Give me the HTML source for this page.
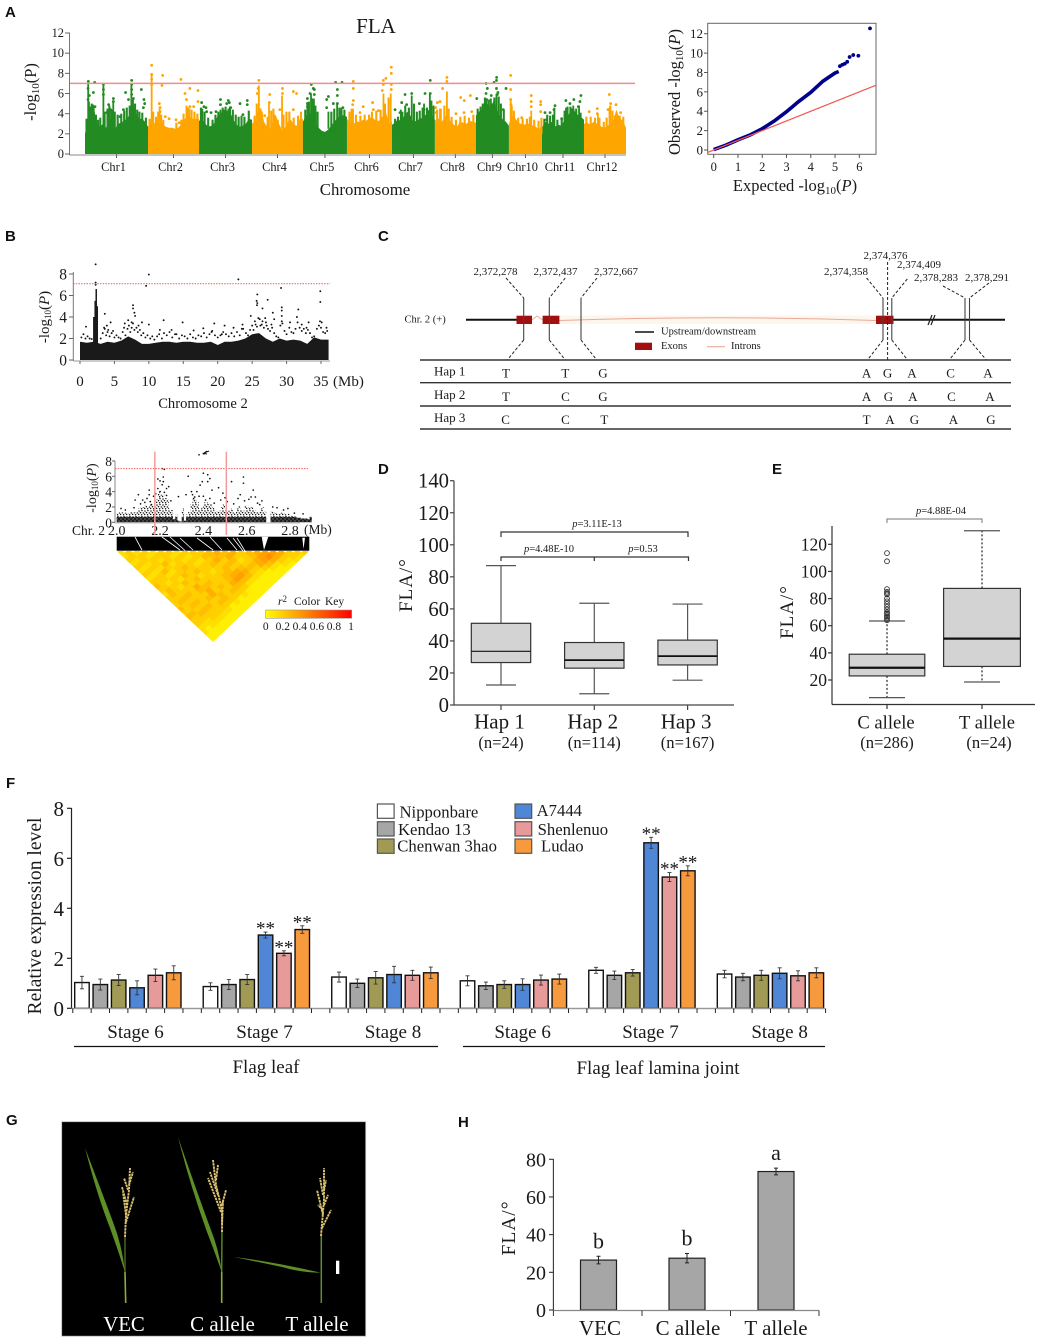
<!DOCTYPE html>
<html lang="en">
<head>
<meta charset="utf-8">
<title>FLA association figure</title>
<style>
html,body{margin:0;padding:0;background:#fff;}
svg{display:block;font-family:"Liberation Serif",serif;}
.panel-letter{font-family:"Liberation Sans",sans-serif;font-weight:700;font-size:15px;fill:#111;}
text{fill:#1a1a1a;}
</style>
</head>
<body>
<svg id="figure" xmlns="http://www.w3.org/2000/svg" width="1037" height="1339" viewBox="0 0 1037 1339">
  <defs>
    <pattern id="speckle" width="6" height="6" patternUnits="userSpaceOnUse">
      <rect width="6" height="6" fill="#fff"/>
      <circle cx="1" cy="1" r=".75" fill="#111"/><circle cx="4" cy="0.6" r=".7" fill="#111"/>
      <circle cx="2.5" cy="2.6" r=".75" fill="#111"/><circle cx="5.3" cy="3" r=".7" fill="#111"/>
      <circle cx="0.6" cy="4.4" r=".75" fill="#111"/><circle cx="3.6" cy="4.7" r=".75" fill="#111"/>
    </pattern>
    <pattern id="speckle-dense" width="4" height="4" patternUnits="userSpaceOnUse">
      <rect width="4" height="4" fill="#444"/>
      <circle cx="1" cy="1" r=".9" fill="#000"/><circle cx="3" cy="3" r=".9" fill="#000"/>
    </pattern>
    <clipPath id="ld-clip"><polygon points="116.7,551 309.3,551 213,642"/></clipPath>
    <linearGradient id="key-gradient" x1="0" x2="1" y1="0" y2="0">
      <stop offset="0" stop-color="#ffff00"/><stop offset="1" stop-color="#ff0000"/>
    </linearGradient>
  </defs>

  <!-- panel letters -->
  <text class="panel-letter" x="5" y="17">A</text>
  <text class="panel-letter" x="5" y="241">B</text>
  <text class="panel-letter" x="378" y="241">C</text>
  <text class="panel-letter" x="378" y="474">D</text>
  <text class="panel-letter" x="772" y="474">E</text>
  <text class="panel-letter" x="6" y="788">F</text>
  <text class="panel-letter" x="6" y="1125">G</text>
  <text class="panel-letter" x="458" y="1127">H</text>

  <!-- panel A static labels -->
  <text x="376" y="33" font-size="21" text-anchor="middle">FLA</text>
  <text x="36" y="92" font-size="16.5" text-anchor="middle" transform="rotate(-90 36 92)">-log<tspan dy="3" font-size="11">10</tspan><tspan dy="-3">(P)</tspan></text>
  <text x="365" y="195" font-size="16.8" text-anchor="middle">Chromosome</text>
  <text x="680" y="92" font-size="16.5" text-anchor="middle" transform="rotate(-90 680 92)">Observed -log<tspan dy="3" font-size="11">10</tspan><tspan dy="-3">(</tspan><tspan font-style="italic">P</tspan>)</text>
  <text x="795" y="191" font-size="16.5" text-anchor="middle">Expected -log<tspan dy="3" font-size="11">10</tspan><tspan dy="-3">(</tspan><tspan font-style="italic">P</tspan>)</text>

  <!-- panel B static labels -->
  <text x="49" y="317" font-size="15" text-anchor="middle" transform="rotate(-90 49 317)">-log<tspan dy="2" font-size="9">10</tspan><tspan dy="-2">(</tspan><tspan font-style="italic">P</tspan>)</text>
  <text x="333" y="386" font-size="15">(Mb)</text>
  <text x="203" y="408" font-size="14.6" text-anchor="middle">Chromosome 2</text>
  <text x="96" y="488" font-size="14" text-anchor="middle" transform="rotate(-90 96 488)">-log<tspan dy="2" font-size="9">10</tspan><tspan dy="-2">(</tspan><tspan font-style="italic">P</tspan>)</text>
  <text x="72" y="535" font-size="13.5">Chr. 2</text>
  <text x="304" y="534" font-size="13.5">(Mb)</text>
  <text x="278" y="605" font-size="11.5"><tspan font-style="italic">r</tspan><tspan dy="-3" font-size="9">2</tspan><tspan dy="3" x="294">Color</tspan><tspan x="325">Key</tspan></text>
  <rect x="265.7" y="610" width="86" height="8.3" fill="url(#key-gradient)" stroke="#999" stroke-width=".6"/>

  <!-- panel C gene model -->
  <g id="gene-model" stroke-linecap="butt">
    <rect x="559" y="315.5" width="318" height="8.5" fill="#fdf6ec"/>
    <line x1="466" x2="517" y1="319.7" y2="319.7" stroke="#111" stroke-width="2"/>
    <line x1="893" x2="1005" y1="319.7" y2="319.7" stroke="#111" stroke-width="2"/>
    <path d="M532,320 L537,316 L542.6,320 M559,320.5 Q720,315 876,320.5" fill="none" stroke="#e8ab9b" stroke-width="1"/>
    <rect x="516.5" y="315.7" width="15.5" height="8.3" fill="#a30f0f"/>
    <rect x="542.6" y="315.7" width="16.8" height="8.3" fill="#a30f0f"/>
    <rect x="876" y="315.7" width="17.5" height="8.3" fill="#a30f0f"/>
    <path d="M928,325 L932,315 M931,325 L935,315" stroke="#222" stroke-width="1.2" fill="none"/>
    <path d="M523.7,298V340 M549.3,298V340 M581,298V340 M883,298V340 M891.8,298V340 M965,298V340 M969.5,298V340" stroke="#444" stroke-width="1.1" fill="none"/>
    <path d="M506,278L523.7,298 M523.7,340L507.3,360 M565.3,278L549.3,298 M549.3,340L565.3,360 M597,278L581,298 M581,340L596.8,360 M866.6,278L883,298 M883,340L867.4,360 M887.6,262V360 M907.3,279L891.8,298 M891.8,340L907.7,360 M943,286L965,298 M965,340L949.3,360 M989,283L969.5,298 M969.5,340L986.3,360" stroke="#222" stroke-width="1" stroke-dasharray="3 2" fill="none"/>
    <line x1="635" x2="654" y1="332" y2="332" stroke="#111" stroke-width="1.6"/>
    <rect x="635" y="342.7" width="17" height="7.3" fill="#a30f0f"/>
    <line x1="707" x2="725" y1="346.7" y2="346.7" stroke="#e8ab9b" stroke-width="1.2"/>
  </g>
  <text x="404.5" y="322.5" font-size="10.5">Chr. 2 (+)</text>
  <text x="661" y="334.5" font-size="10.5">Upstream/downstream</text>
  <text x="661" y="349" font-size="10.5">Exons</text>
  <text x="731" y="349" font-size="10.5">Introns</text>

  <!-- panel D labels -->
  <text x="412" y="585" font-size="19" text-anchor="middle" letter-spacing="1" transform="rotate(-90 412 585)">FLA/°</text>
  <text x="597" y="527" font-size="10.5" text-anchor="middle"><tspan font-style="italic">p</tspan>=3.11E-13</text>
  <text x="549" y="552" font-size="10.5" text-anchor="middle"><tspan font-style="italic">p</tspan>=4.48E-10</text>
  <text x="643" y="552" font-size="10.5" text-anchor="middle"><tspan font-style="italic">p</tspan>=0.53</text>
  <path d="M501,537V532H688V537 M501,561V557H688.5V561 M594.3,557V561" fill="none" stroke="#333" stroke-width="1.2"/>

  <!-- panel E labels -->
  <text x="793" y="612" font-size="19" text-anchor="middle" letter-spacing="1" transform="rotate(-90 793 612)">FLA/°</text>
  <text x="941" y="514" font-size="10.5" text-anchor="middle"><tspan font-style="italic">p</tspan>=4.88E-04</text>
  <path d="M887,523V519H982V523" fill="none" stroke="#777" stroke-width="1"/>

  <!-- panel F labels -->
  <text x="41" y="916" font-size="19.6" text-anchor="middle" transform="rotate(-90 41 916)">Relative expression level</text>
  <line x1="74" x2="438" y1="1046.5" y2="1046.5" stroke="#111" stroke-width="1.3"/>
  <line x1="463" x2="825" y1="1046.5" y2="1046.5" stroke="#111" stroke-width="1.3"/>
  <text x="266" y="1073" font-size="19" text-anchor="middle">Flag leaf</text>
  <text x="658" y="1074" font-size="19" text-anchor="middle">Flag leaf lamina joint</text>

  <!-- panel G photo -->
  <g id="plant-photo">
    <rect x="61.7" y="1121.7" width="304" height="214.5" fill="#000" stroke="#bbb" stroke-width=".8"/>
    <path d="M125.7,1303L125,1272" stroke="#8aad3c" stroke-width="1.6" fill="none"/>
    <path d="M125,1272L125,1236" stroke="#4f6b22" stroke-width="1.4" fill="none"/>
    <path d="M85,1148Q103,1195 113,1222Q122,1245 125,1272Q118,1250 110,1228Q97,1195 85,1148Z" fill="#5c8f28"/>
    <path d="M125,1237L126,1215L129,1190L130,1168M126,1222L134,1197M127,1205L122,1187M126,1215L123,1192M128,1190L124,1178M129,1185L133,1172" stroke="#d9c070" stroke-width="1.9" stroke-dasharray="2.5 .7" fill="none"/>
    <path d="M221.7,1303L221.7,1272" stroke="#8aad3c" stroke-width="1.6" fill="none"/>
    <path d="M221.7,1272L222,1230" stroke="#5f8a26" stroke-width="1.4" fill="none"/>
    <path d="M178,1137Q198,1195 211,1230Q219,1250 221.7,1272Q214,1250 207,1232Q190,1185 178,1137Z" fill="#5c8f28"/>
    <path d="M222,1232L222,1210L216,1185L213,1160M221,1212L208,1178M222,1225L223,1200M218,1195L210,1172M216,1180L218,1165M222,1205L226,1190" stroke="#dcc274" stroke-width="1.9" stroke-dasharray="2.5 .7" fill="none"/>
    <path d="M321.3,1303L321.3,1235" stroke="#648c2b" stroke-width="1.5" fill="none"/>
    <path d="M234,1257Q275,1262 320.7,1272.7Q300,1272.5 282,1267Q258,1262 234,1257Z" fill="#5c8f28"/>
    <path d="M321,1236L324,1200L324,1168M322,1228L331,1210M323,1215L317,1190M323,1210L318,1205M324,1190L326,1180M323,1195L320,1178M324,1205L328,1195" stroke="#d9c070" stroke-width="1.9" stroke-dasharray="2.5 .7" fill="none"/>
    <rect x="336" y="1260.7" width="3.3" height="13.3" fill="#fff"/>
  </g>
  <text x="124" y="1331" font-size="20.8" text-anchor="middle" style="fill:#fff">VEC</text>
  <text x="222.5" y="1331" font-size="21" text-anchor="middle" style="fill:#fff">C allele</text>
  <text x="317" y="1331" font-size="21" text-anchor="middle" style="fill:#fff">T allele</text>

  <!-- panel H labels -->
  <text x="515" y="1228" font-size="19.5" text-anchor="middle" letter-spacing="1" transform="rotate(-90 515 1228)">FLA/°</text>
</svg>

<script>
/* ---------- Panel A data ---------- */
const chromosomeNames = ['Chr1','Chr2','Chr3','Chr4','Chr5','Chr6','Chr7','Chr8','Chr9','Chr10','Chr11','Chr12'];
const chromosomeLengthsMb = [43.5,35.2,36.6,35.1,30.4,31.1,29.6,28.3,22.8,22.8,29,29];
const chromosomeBands = [
  [2.0,3.6,4.5,4.6,2.8,2.7,3.0,2.6,3.4,3.5,2.5,3.0,3.1,3.3,3.5,4.0,5.0,4.0,3.5,3.5,3.2,2.7],
  [2.7,3.5,3.0,3.4,3.6,2.9,2.7,2.6,2.6,2.5,2.6,2.9,3.4,3.7,3.6,3.5,3.5,3.5],
  [3.3,3.4,3.0,2.7,2.8,3.1,3.8,4.0,4.4,4.3,4.1,3.4,2.9,2.7,2.8,3.0,3.5,3.4],
  [3.0,3.3,4.2,4.6,3.2,2.7,2.5,3.4,3.8,3.0,2.4,2.6,3.2,3.4,2.9,2.8,3.5,3.5],
  [3.2,3.8,4.2,3.6,3.0,2.6,2.3,2.2,2.4,2.8,3.2,3.6,3.9,3.8,3.7],
  [3.5,3.1,3.0,3.2,3.2,3.4,3.3,3.6,3.6,3.3,3.3,3.7,4.3,3.0,3.2],
  [2.9,3.1,3.5,3.2,3.8,4.2,3.8,3.2,3.3,3.5,3.6,3.9,4.4,3.8,3.4],
  [3.3,3.6,3.1,3.6,4.0,3.2,2.9,2.7,3.2,3.1,3.0,3.3,3.2,3.1],
  [3.8,4.2,4.4,4.8,5.0,4.6,5.4,4.4,3.8,3.4,3.2,2.8],
  [3.0,3.8,3.6,3.1,3.0,2.9,3.0,3.0,2.8,2.7,2.4,3.0],
  [2.6,3.2,3.0,3.2,2.7,2.9,2.8,3.4,3.8,4.3,4.3,3.9,3.7,3.4],
  [3.0,3.1,2.9,3.2,3.0,2.8,2.6,2.7,3.0,3.2,4.4,3.6,3.3,2.6]
];
const manhattanStems = [
  [2.2,7],[6,4.8],[12.7,6.8],[19.5,5.3],[32,6.8],[46,7.8],[51.5,4.5],[70,4.8],[72,4.5],[81,4.5],[93.5,4.4],[99,4.5],
  [120,6.8],[127,5],[136,5.8],[131,3.9],[153.5,5],[156,6],[158,5.5],[174,5],[168,4.2],[185,4.5],[206,6],[211,6],
  [218,4.4],[225.5,5.8],[238,6],[234,5],[249.8,6.2],[245,4.5],[277,5.3],[284,6],[281,5],[275,5],[293.8,5.5],[308,4.3],
  [324,4.6],[332,4.6],[337,4.8],[341,4.8],[362,4.6],[354,4]
];
const manhattanFringe = [
  [1,3.5],[2.6,5.2],[3.6,4.7],[4.6,5],[5.4,4.9],[7.5,3.9],[9,3.4],[10.5,3.6],[13.5,4.2],[15.5,4.5],[16.8,4.8],[18.3,4.4],[20.5,4.2],[22.5,3.9],[25,4],[27,4.3],[28.8,4.6],[30.8,4.8],[33,5.4],[34.5,5],[36,4.4],[37.5,4.2],[39.5,4.1],[42,3.6],
  [44.5,3.5],[47,4.2],[49,3.7],[50.5,4.2],[52.5,3.9],[54,3.4],[63,3.1],[66.5,3.4],[68,4],[71,4.6],[73.5,4.4],[75.5,4.2],[77.5,4],
  [80,4.6],[82.5,4.2],[85,3.6],[88,3.4],[90,3.9],[92,4.2],[95,4.6],[97,4.7],[100,4.7],[102,4.4],[104,3.9],[106,3.7],[108,3.8],[110,3.7],[113,4.3],
  [117,3.8],[118.5,5],[122,4.2],[126,3.7],[128.5,4.3],[130,4.5],[133,3.4],[137,3.9],[139,4.2],[141,4.2],[144,3.6],[147,3.8],[149,4.2],
  [152,4.4],[154.5,5.2],[157,5.3],[159,4.8],[160.5,4.2],[170,4.2],[172,4.5],[175.5,4.6],[177,4.6],[179,4.4],
  [182.5,4.2],[184,4.5],[187,3.9],[190,3.8],[193,3.9],[196,3.9],[198,4.2],[201,4.3],[204,4.4],[207,5],[209.5,5.6],
  [214,3.5],[216,3.7],[219,4.2],[221,4.8],[223.5,4.6],[227,5],[229,4.2],[231,4.3],[233,4.6],[236,4.6],[239,5.3],[240.5,4.8],
  [243,4.4],[245.5,4.5],[248,4.8],[251,4.5],[253,3.7],[256,3.4],[259,3.7],[262,3.8],[265,3.6],[268,3.9],
  [271,4.5],[273,4.7],[274.5,5],[276,5.6],[278.5,5.4],[280,5.5],[282.5,5.6],[285.5,5.7],[287,5],[289,4.4],
  [294.5,4.8],[296,4.3],[299,3.6],[302,3.5],[305,3.5],[307,3.7],[310,3.4],[313,3.3],[315,3.6],
  [317,3.5],[319,3.9],[321,3.8],[323,3.9],[326,3.4],[329,3.5],[331,4.3],[333,4.7],[335,4.7],[337,4.5],[339,4.5],[342,4.1],
  [346,3.7],[349,3.7],[352,3.6],[355,3.6],[358,3.2],[360,3.6],[362.5,4.8],[364,4.3],[367,3.9],[369,3.8],[371.5,3.7]
];
const manhattanHits = [
  [2.3,7.2],[6.7,7.1],[32.2,7.3],[12.7,6.9],[2.1,6.5],[5.8,6.1],[3,5.8],[32.2,6.9],[32.2,6.4],[38.9,6.4],[28,6.1],[12.7,6.4],[2.1,5.4],[19.6,5.5],[19.6,5.2],[12.7,5.9],[6.9,4.7],[32.2,5.9],[30,5.4],[33.4,5.5],[40.7,5.4],[41.2,5],[40.3,4.6],[16.3,4.9],[17.7,4.4],[15,4.1],[26.5,4.4],[24.2,3.7],
  [46,8.8],[46,7.9],[46,7.4],[46,6.9],[53.6,7.8],[53.1,6.8],[66.2,7.4],[72.4,6.5],[78,6.3],[78,5.2],[69,6],[70,5.4],[72.4,4.7],[75,4.7],[51.3,5],[51.8,4.6],[51.8,4.2],[55.4,3.7],[58,3.5],[62.8,3.4],[65,3.1],
  [80.5,5.1],[82.1,4.7],[84,4.2],[83.5,4.6],[87,4.1],[90.4,4.2],[93.5,5.4],[93.5,4.9],[98.9,5.3],[97.8,5],[99.6,5.1],[100.6,4.6],[107,5],[112,5.3],[112,4.9],[109,3.9],
  [120,7.3],[119.5,6.5],[118.9,6],[127.5,5.9],[127.2,5.1],[136.3,6.5],[136.3,6],[143.8,6.2],[146,6],[143.8,4.4],[134.5,4.4],[124,3.8],
  [156.2,6.9],[157.6,6.5],[155.3,6],[158.3,6.4],[158.3,5.9],[156.5,5.4],[153.5,5.5],[153.5,5],[153.5,4.7],[173,7.1],[177.4,7.1],[174.2,6.4],[174.2,5.8],[168,5.7],[166.8,5.4],[174.2,5],[171.4,5],[166.8,4.6],[178,4.6],[176,4.1],
  [211.4,8.6],[211.4,8],[211.4,6.9],[211.4,6.4],[207.7,7.5],[205.9,7.3],[205.9,6.9],[205.2,6.3],[185.2,7.2],[185.2,6.5],[185.2,5.3],[184.7,4.9],[192,4.7],[198.5,5.1],[189.8,4.1],[202.5,4.3],[199,4.4],
  [238.3,7.3],[225.5,6],[220.9,5.9],[218.6,5.1],[234.7,6],[238.3,6],[230.8,5],[222,4.9],[214,4.4],[234,4.4],[217.4,4.1],
  [249.8,7.6],[249.8,7.2],[246.8,6.5],[243.2,5.1],[245,5.2],[242,4.6],[242.3,4.1],[259.3,5.6],[261.8,5.3],[266,5.8],[256,4],[261.6,4.1],[266.9,4.2],
  [276.8,7],[277.7,6.5],[276.8,6],[282.3,7.1],[284.1,7.6],[284,7.3],[284,6.5],[285,6.1],[290.6,6.5],[270.4,5.5],[280.4,5.8],[277.2,5.4],[284.6,5.9],[288.7,4.4],
  [293.8,7.8],[293.8,6.4],[293.8,5.4],[294,4.9],[308,5.8],[308,5.2],[308,4.7],[314.5,5.2],[314.5,4.9],[314.5,4.2],[301.4,3.6],[298,3.2],
  [331.9,5.3],[337.4,5.4],[342.3,5.8],[341.6,5.2],[324.4,4.8],[323.7,4.4],[317.5,4.1],[321,4.1],[334.7,5],[335.8,4.4],[340.5,4.7],[318.6,3.4],[329,3.5],
  [361.9,5.9],[362.8,5],[366.5,4.9],[348,4.2],[353.6,4.5],[353.6,4],[369.7,4.1],[361,4.4],[365.8,3.7]
];
const manhattanThreshold = 7;
const manhattanTicks = [0,2,4,6,8,10,12];

/* ---------- QQ data ---------- */
const qqExpected = [0,0.5,1,1.5,2,2.5,3,3.5,4,4.5,5,5.15];
const qqObserved = [0.05,0.5,1.05,1.55,2.2,3.0,3.95,5.0,5.95,7.1,7.95,8.1];
const qqTailExpected = [5.2,5.3,5.4,5.5,5.6,5.75,5.96,6.44];
const qqTailObserved = [8.65,8.8,8.9,9.1,9.6,9.8,9.73,12.55];
const qqTicksX = [0,1,2,3,4,5,6];
const qqTicksY = [0,2,4,6,8,10,12];

/* ---------- Panel B chromosome 2 data ---------- */
const chr2Band = [1.7,1.6,1.7,1.5,1.7,1.6,1.8,2.2,1.9,1.5,1.5,1.6,1.7,1.7,1.6,1.7,1.7,1.6,1.6,1.7,1.4,1.7,1.7,1.8,2.0,2.4,2.5,2.0,1.7,2.0,1.8,1.9,1.8,1.5,2.1,1.9];
const chr2Peak = [[2.0,4],[2.2,5.5],[2.35,6.6],[2.5,5]];
const chr2Hits = [
  [2.27,8.9],[2.27,7.2],[2.27,7],[10,7.95],[9.6,6.9],[23,7.5],[29.2,6.7],[34.9,6.4],[34.9,5.4],[25.75,6.1],[27.25,5.6],[25.65,5.5],[25.75,5.3],[25.7,5.1],[26.5,4.8],[29.3,4.9],[29.3,4.6],[28,4.4],[31.7,4.7],[24.8,4.1],[31.5,4],[28.2,3.8],
  [3.6,4.3],[7.7,5.1],[7.7,4.8],[7.9,4.4],[8,4.1],[0.87,3.1],[12.15,3.7],[14.9,3.5],[19.5,3.4],[10,3.3],[4.45,3.5],[3.9,3.2],[3.5,3],[4.1,2.8],[4.8,2.7],[6.5,3.4],[7,3.7],[7.5,3.5],[8.5,3.2],[9,3.5],
  [21,3.2],[22.3,3],[23.6,3.3],[23.5,2.9],[25.4,3.6],[26.1,3.8],[26.9,3.9],[26.4,3.3],[27.8,3.3],[27.1,3.2],[30.5,3.5],[29.3,4.1],[29.3,3.6],[32.2,3.3],[33.2,3.5],[32.9,3],[34.85,3.6],[35.1,3.5],[35.8,3],[13.3,2.8],[11.6,2.8],[16.5,2.75],[17.9,2.95],[13.8,2.4],[19.1,2.6],[20.6,2.4],
  [0.2,2.1],[0.5,2.4],[0.8,2],[1.1,2.2],[1.4,2.0],[1.7,1.95],[3.0,2],[3.3,2.5],[3.6,2.9],[3.8,2.3],[4.0,2.6],[4.3,2.2],[4.6,2.5],[5,2.1],[5.3,2.3],[5.6,2.1],[5.9,2],[6.2,2.6],[6.4,3],[6.6,2.3],[6.9,2.9],[7.1,3.2],[7.3,2.6],[7.5,3],[7.7,3.4],[7.9,2.8],[8.2,3],[8.4,2.6],[8.7,2.8],[8.9,2.3],[9.2,2.5],[9.5,2.1],[9.8,2.3],[10.2,2],[10.5,2.2],[10.8,1.9],[11.2,2.2],[11.5,2.4],[11.9,2],[12.2,2.5],[12.6,2.3],[13,2.6],[13.4,2.1],[14,2.4],[14.4,2],[14.8,2.3],[15.2,2.2],[15.6,2],[16,2.4],[16.4,2.1],[16.8,2],[17.2,2.3],[17.6,2.2],[18,2.5],[18.4,2.1],[18.8,2.4],[19.2,2.7],[19.6,2.3],[20,2.1],[20.4,2.3],[20.8,2.6],[21.2,2.4],[21.6,2.2],[22,2.5],[22.4,2.2],[22.8,2.6],[23.2,2.3],[23.7,2.9],[24.1,2.5],[24.4,2.3],[24.7,2.8],[25,3.2],[25.2,2.8],[25.5,3.3],[25.7,3.1],[25.9,3.9],[26.2,3.2],[26.5,3.6],[26.7,3],[27,3.5],[27.3,2.9],[27.6,2.7],[27.9,3],[28.2,2.5],[28.5,2.2],[28.8,2.1],[29.1,3.2],[29.4,3.4],[29.7,2.7],[30,2.4],[30.4,3],[30.7,2.6],[31,2.5],[31.3,2.9],[31.6,3.5],[31.9,3],[32.2,2.7],[32.5,2.9],[32.8,2.5],[33.1,2.8],[33.4,2.5],[33.7,2.1],[34,2.2],[34.4,2.9],[34.7,3.2],[35,3],[35.3,2.6],[35.6,2.5],[35.9,2.7]
];
const chr2TicksX = [0,5,10,15,20,25,30,35];
const chr2TicksY = [0,2,4,6,8];

/* ---------- Panel B region + LD data ---------- */
const regionBand = [
  1.2,1.3,1.3,1.2,1.3,1.2,1.4,1.3,1.3,1.4,
  1.8,2.0,2.0,2.2,2.0,2.4,2.2,2.0,3.0,4.0,
  3.6,3.6,3.2,3.0,1.8,1.6,0.4,1.0,0.2,0.1,
  1.8,0.2,1.0,1.4,2.5,3.0,3.0,2.6,1.6,2.0,
  2.6,2.6,2.4,2.4,2.0,1.5,1.4,1.5,2.0,2.4,
  1.6,1.5,1.8,1.6,1.2,1.8,2.2,1.6,1.5,2.2,
  2.0,2.0,2.0,1.7,1.4,1.3,1.8,2.0,1.4,0,
  0,1.4,1.3,1.2,1.1,1.2,1.3,1.2,1.0,1.1,
  0.9,0.8,0.8,0.6,0.6,0.5,0.5,0.5,0.4,0.7
];
const regionHits = [
  [2.38,8.8],[2.4,8.95],[2.405,8.95],[2.21,7],[2.22,6.9],[2.19,5.65],[2.2,5.4],[2.215,5.9],[2.215,5.3],[2.24,4.65],[2.23,4.4],[2.19,4.4],[2.21,4.9],
  [2.33,6],[2.4,6.4],[2.42,6.2],[2.43,5.7],[2.395,5.3],[2.42,5.3],[2.37,4],[2.345,4],[2.385,4.85],[2.44,4.2],[2.47,4.5],[2.49,3.8],[2.53,5.3],[2.585,5.9],[2.585,5.1],[2.63,4.2],[2.57,3.6],[2.62,3.3],[2.64,3.3],
  [2.15,4.2],[2.15,3.6],[2.1,3.6],[2.085,2.9],[2.12,2.9],[2.155,2.7],[2.285,3.35],[2.32,3.6],[2.72,2],[2.79,1.8],[2.355,3.1],[2.51,2.7],[2.02,1.8],
  [2.04,1.6],[2.08,1.9],[2.11,2.4],[2.13,2.6],[2.14,3.1],[2.16,2.3],[2.17,3.4],[2.18,3.7],[2.2,4],[2.22,3.9],[2.23,3.5],[2.25,2.8],[2.35,3.6],[2.36,3.3],[2.38,3.4],[2.4,3.4],[2.41,2.9],[2.43,3.1],[2.45,2.5],[2.48,2.9],[2.5,3.2],[2.54,2.4],[2.56,3.1],[2.59,2.8],[2.61,3],[2.65,2.5],[2.66,2.3],[2.67,2.8],[2.74,1.9],[2.77,1.6],[2.82,1.2],[2.86,1.1]
];
const regionTicksX = [2.0,2.2,2.4,2.6,2.8];
const regionTicksY = [0,2,4,6,8];
const regionBoundaries = [2.176,2.506];
const ldRows = [
  [2,3,2,3,2,3,3,2,3,3,3,4,5,4,5,3,4,5,6,6,5,3,3,3],
  [2,3,3,2,3,3,2,3,2,3,4,4,4,5,3,3,4,6,7,5,3,3,2],
  [3,2,3,3,2,3,3,2,3,2,3,5,3,4,2,3,5,6,5,3,2,2],
  [2,3,2,3,4,2,3,3,2,3,4,3,4,3,3,4,5,4,2,2,1],
  [3,2,3,2,3,3,4,3,3,3,3,4,3,4,4,3,3,2,1,1],
  [2,3,2,4,2,3,3,4,3,2,3,4,5,5,3,2,1,1,1],
  [3,2,3,2,3,4,3,2,3,3,4,5,6,4,2,1,1,1],
  [2,3,3,3,2,3,4,3,3,3,4,6,4,2,1,1,1],
  [3,3,2,3,4,3,3,4,3,3,5,4,2,1,1,1],
  [4,3,3,2,3,5,4,3,4,3,4,3,1,1,1],
  [3,4,3,3,3,4,5,3,3,4,3,1,1,1],
  [2,4,3,4,3,3,5,4,3,3,2,1,1],
  [3,3,4,3,3,4,3,4,3,1,1,1],
  [3,4,3,4,3,3,4,3,2,1,1],
  [3,3,4,3,4,3,3,1,1,1],
  [4,3,3,4,3,3,2,1,1],
  [3,4,4,3,3,2,1,1],
  [4,3,3,3,2,1,1],
  [3,3,2,2,1,1],
  [3,2,2,1,1],
  [2,1,1,1],
  [2,1,1],
  [1,1],
  [1]
];
const keyTicks = ['0','0.2','0.4','0.6','0.8','1'];

/* ---------- Panel C data ---------- */
const snpPositions = ['2,372,278','2,372,437','2,372,667','2,374,358','2,374,376','2,374,409','2,378,283','2,378,291'];
const haplotypeNames = ['Hap 1','Hap 2','Hap 3'];
const haplotypeAlleles = [
  ['T','T','G','A','G','A','C','A'],
  ['T','C','G','A','G','A','C','A'],
  ['C','C','T','T','A','G','A','G']
];

/* ---------- Panel D / E data ---------- */
const hapTicks = [0,20,40,60,80,100,120,140];
const hapNames = ['Hap 1','Hap 2','Hap 3'];
const hapCounts = ['(n=24)','(n=114)','(n=167)'];
const hapLow = [12.5,7,15.5];
const hapQ1 = [26.5,23,25];
const hapMedian = [33.5,28,30.5];
const hapQ3 = [51,39,40.5];
const hapHigh = [87,63.5,63];
const alleleTicks = [20,40,60,80,100,120];
const alleleNames = ['C allele','T allele'];
const alleleCounts = ['(n=286)','(n=24)'];
const alleleLow = [7,18.5];
const alleleQ1 = [23,30];
const alleleMedian = [29,50.5];
const alleleQ3 = [39,87.5];
const alleleHigh = [63.5,130];
const alleleOutliers = [64,65,66,67,68,69,70,72,74,76,78,80,83,84,85,87,107.5,113.5];

/* ---------- Panel F data ---------- */
const varietyNames = ['Nipponbare','Kendao 13','Chenwan 3hao','A7444','Shenlenuo','Ludao'];
const varietyColors = ['#ffffff','#a6a6a6','#a09a55','#4f86d6','#e79a9a','#f79a3e'];
const stageNames = ['Stage 6','Stage 7','Stage 8','Stage 6','Stage 7','Stage 8'];
const expressionValues = [
  [1.03,0.95,1.13,0.82,1.32,1.42],
  [0.87,0.95,1.15,2.93,2.2,3.15],
  [1.25,1.0,1.22,1.35,1.32,1.42],
  [1.1,0.9,0.95,0.95,1.13,1.17],
  [1.52,1.32,1.42,6.62,5.25,5.5],
  [1.37,1.25,1.32,1.4,1.3,1.42]
];
const expressionErrors = [
  [0.25,0.22,0.22,0.28,0.25,0.28],
  [0.15,0.2,0.2,0.12,0.1,0.15],
  [0.2,0.17,0.25,0.33,0.2,0.23],
  [0.2,0.15,0.15,0.23,0.2,0.2],
  [0.12,0.17,0.13,0.22,0.18,0.2],
  [0.15,0.15,0.2,0.22,0.2,0.2]
];
const expressionSignificant = [[1,3],[1,4],[1,5],[4,3],[4,4],[4,5]];
const expressionTicks = [0,2,4,6,8];

/* ---------- Panel H data ---------- */
const transgenicNames = ['VEC','C allele','T allele'];
const transgenicValues = [26.5,27.5,73.5];
const transgenicErrors = [2,2.5,1.8];
const transgenicLetters = ['b','b','a'];
const transgenicTicks = [0,20,40,60,80];

/* ---------- helpers ---------- */
const svg = document.getElementById('figure');
const NS = 'http://www.w3.org/2000/svg';
function make(tag, attrs, parent){
  const e = document.createElementNS(NS, tag);
  for (const k in attrs) e.setAttribute(k, attrs[k]);
  (parent || svg).appendChild(e);
  return e;
}
function group(name){
  const g = make('g', {});
  
  
  return g;
}
function line(parent, x1, y1, x2, y2, color, width, name){
  const l = make('line', {x1:x1, y1:y1, x2:x2, y2:y2, stroke:color, 'stroke-width':width}, parent);
  
  
  return l;
}
function label(parent, x, y, str, size, anchor, name){
  const t = make('text', {x:x, y:y, 'font-size':size, 'text-anchor':anchor || 'middle'}, parent);
  t.textContent = str;
  
  
  return t;
}
function dot(parent, x, y, r, color, name){
  const c = make('circle', {cx:x, cy:y, r:r, fill:color}, parent);
  
  
  return c;
}

/* ---------- Panel A: Manhattan ---------- */
(function(){
  const g = group('manhattan-plot');
  const totalMb = chromosomeLengthsMb.reduce((a,b)=>a+b,0);
  const x = mb => 85 + mb * (626-85) / totalMb;
  const y = v => 154 - v * (154-33) / 12;
  const colors = ['#228b22','#ffa500'];
  const starts = [];
  let acc = 0;
  chromosomeLengthsMb.forEach(len => { starts.push(acc); acc += len; });
  const colorAt = mb => {
    let idx = 0;
    starts.forEach((s,i) => { if (mb >= s) idx = i; });
    return colors[idx % 2];
  };
  chromosomeBands.forEach((band, i) => {
    const step = chromosomeLengthsMb[i] / (band.length - 1);
    const pts = [x(starts[i]) + ',' + y(0)];
    band.forEach((v, j) => pts.push(x(starts[i] + j * step) + ',' + y(v)));
    pts.push(x(starts[i] + chromosomeLengthsMb[i]) + ',' + y(0));
    const p = make('polygon', {points: pts.join(' '), fill: colors[i % 2]}, g);
    
    
    const mid = starts[i] + chromosomeLengthsMb[i] / 2;
    line(g, x(mid), 154, x(mid), 158, '#555', 1, 'manhattan-x-tick');
    label(g, x(mid) - 3, 171, chromosomeNames[i], 12.4, 'middle', 'manhattan-x-label');
  });
  manhattanFringe.forEach(s => {
    const r = make('rect', {x: x(s[0]) - 1, y: y(s[1]), width: 2.1, height: y(2) - y(s[1]), fill: colorAt(s[0])}, g);
    
    
  });
  manhattanStems.forEach(s => {
    const r = make('rect', {x: x(s[0]) - 0.9, y: y(s[1]), width: 1.8, height: y(2.5) - y(s[1]), fill: colorAt(s[0])}, g);
    
    
  });
  manhattanHits.forEach(h => dot(g, x(h[0]), y(h[1]), 1.4, colorAt(h[0]), 'manhattan-point'));
  line(g, 70, y(manhattanThreshold), 635, y(manhattanThreshold), '#f28d8d', 1.5, 'genome-wide-threshold');
  line(g, 69.5, 33, 69.5, 155, '#777', 1, 'manhattan-y-axis');
  line(g, 69.5, 155, 626, 155, '#888', 1, 'manhattan-x-axis');
  manhattanTicks.forEach(v => {
    line(g, 65, y(v), 70, y(v), '#666', 1, 'manhattan-y-tick');
    label(g, 64, y(v) + 4, String(v), 12.4, 'end', 'manhattan-y-label');
  });
})();

/* ---------- Panel A: QQ ---------- */
(function(){
  const g = group('qq-plot');
  const x = v => 713.7 + v * 24.27;
  const y = v => 150 - v * 9.69;
  const frame = make('rect', {x:707.7, y:23.3, width:168.3, height:131, fill:'#fff', stroke:'#666', 'stroke-width':1}, g);
  
  
  const pl = make('polyline', {points: qqExpected.map((e,i)=>x(e)+','+y(qqObserved[i])).join(' '), fill:'none', stroke:'#00008b', 'stroke-width':3.6}, g);
  
  
  qqTailExpected.forEach((e,i) => dot(g, x(e), y(qqTailObserved[i]), 1.9, '#00008b', 'qq-tail-point'));
  line(g, x(-0.25), y(-0.25), x(6.69), y(6.69), '#f2564e', 1.2, 'qq-expected-line');
  qqTicksX.forEach(v => {
    line(g, x(v), 154, x(v), 158, '#555', 1, 'qq-x-tick');
    label(g, x(v), 171, String(v), 12.5, 'middle', 'qq-x-label');
  });
  qqTicksY.forEach(v => {
    line(g, 704, y(v), 708, y(v), '#555', 1, 'qq-y-tick');
    label(g, 703, y(v) + 4.5, String(v), 13, 'end', 'qq-y-label');
  });
})();

/* ---------- Panel B: chromosome 2 ---------- */
(function(){
  const g = group('chromosome-2-manhattan');
  const x = mb => 80 + mb * 6.886;
  const y = v => 360 - v * 10.75;
  const pts = [x(0)+','+y(0)];
  chr2Band.forEach((v,i) => pts.push(x(i)+','+y(v)));
  pts.push(x(chr2Band.length+0.1)+','+y(chr2Band[chr2Band.length-1]));
  pts.push(x(chr2Band.length+0.1)+','+y(0));
  const p = make('polygon', {points: pts.join(' '), fill:'#1a1a1a'}, g);
  
  
  chr2Peak.forEach(s => {
    const r = make('rect', {x: x(s[0]) - 0.7, y: y(s[1]), width: 1.5, height: y(1.5) - y(s[1]), fill:'#1a1a1a'}, g);
    
    
  });
  chr2Hits.forEach(h => dot(g, x(h[0]), y(h[1]), 0.95, '#111', 'chr2-point'));
  line(g, 73, 283.7, 330, 283.7, '#f46f6f', 1.2, 'chr2-threshold').setAttribute('stroke-dasharray', '1.5 1.2');
  line(g, 73.3, 272, 73.3, 361, '#777', 1, 'chr2-y-axis');
  line(g, 73.3, 361, 330, 361, '#999', 1, 'chr2-x-axis');
  chr2TicksY.forEach(v => {
    line(g, 69, y(v), 73.3, y(v), '#666', 1, 'chr2-y-tick');
    label(g, 67, y(v) + 5.5, String(v), 15.5, 'end', 'chr2-y-label');
  });
  chr2TicksX.forEach(v => {
    line(g, x(v), 361, x(v), 364, '#666', 1, 'chr2-x-tick');
    label(g, x(v), 386, String(v), 15, 'middle', 'chr2-x-label');
  });
})();

/* ---------- Panel B: region + LD ---------- */
(function(){
  const g = group('region-association-plot');
  const x = mb => 116.7 + (mb - 2) * 216.7;
  const y = v => 522.3 - v * 7.67;
  const step = 0.01;
  const poly = (vals, cap, fill, name) => {
    const pts = [x(2)+','+y(0)];
    vals.forEach((v,i) => {
      const m = 2 + i * step;
      const t = Math.min(v, cap);
      pts.push(x(m)+','+y(t));
      pts.push(x(m+step)+','+y(t));
    });
    pts.push(x(2 + vals.length*step)+','+y(0));
    const p = make('polygon', {points: pts.join(' '), fill: fill}, g);
    
    
  };
  poly(regionBand, 99, 'url(#speckle)', 'region-sparse-band');
  poly(regionBand, 0.7, 'url(#speckle-dense)', 'region-dense-band');
  regionHits.forEach(h => dot(g, x(h[0]), y(h[1]), 0.85, '#111', 'region-point'));
  const arrow = make('path', {d:'M209,451 L204,453 M204,453 L207,451 M204,453 L207,454.2', fill:'none', stroke:'#111', 'stroke-width':1}, g);
  
  
  line(g, 115, y(7), 308, y(7), '#f46f6f', 1.1, 'region-threshold').setAttribute('stroke-dasharray', '1.5 1.2');
  line(g, 115, 461, 115, 523, '#888', 1, 'region-y-axis');
  line(g, 115, 523, 300, 523, '#bbb', 1, 'region-x-axis');
  regionTicksY.forEach(v => {
    line(g, 112, y(v), 115, y(v), '#666', 1, 'region-y-tick');
    label(g, 112, y(v) + 5, String(v), 13.5, 'end', 'region-y-label');
  });
  regionTicksX.forEach(v => label(g, x(v), 535, v.toFixed(1), 14, 'middle', 'region-x-label'));
  regionBoundaries.forEach(b => line(g, x(b), 451.7, x(b), 535, '#f59a9a', 1.5, 'region-boundary-line'));

  const ld = group('ld-heatmap');
  const bar = make('rect', {x:116.7, y:536.7, width:192.6, height:14, fill:'#000'}, ld);
  
  
  const slits = make('path', {d:'M135,537L142,550M162,537L180,550M170,537L185,550.5M180,538L193,550M197,538L213,550M210,537L222,550M227,538L237,550M233,538L243,551M237,538L245,551', stroke:'#fff', 'stroke-width':.8, fill:'none'}, ld);
  
  
  const notch1 = make('polygon', {points:'261.7,536.7 268.3,536.7 264,550', fill:'#fff'}, ld);
  
  
  const notch2 = make('polygon', {points:'302.3,537.7 305,537.7 303.5,549', fill:'#fff'}, ld);
  
  
  const cells = make('g', {'clip-path':'url(#ld-clip)'}, ld);
  const n = ldRows.length;
  const w = 192.6 / n;
  const h = 91 / n;
  const color = r => 'rgb(255,' + Math.round(255 * (1 - r)) + ',0)';
  ldRows.forEach((row, k) => row.forEach((level, c) => {
    const cx = 116.7 + (c + 0.5 + k / 2) * w;
    const cy = 551 + (k + 0.5) * h;
    const d = make('polygon', {points: [cx-w/2-.3, cy, cx, cy-h-.3, cx+w/2+.3, cy, cx, cy+h+.3].join(','), fill: color(level / 16)}, cells);
    
    
  }));
  const kx = i => 265.7 + i * (351 - 265.7) / (keyTicks.length - 1);
  keyTicks.forEach((t,i) => label(ld, kx(i), 630, t, 11.5, 'middle', 'color-key-label'));
})();

/* ---------- Panel C: haplotype table ---------- */
(function(){
  const g = group('haplotype-table');
  const posX = [495.5,555.5,616,846,885.5,919,936,987];
  const posY = [275,275,275,275,259,268,281,281];
  const colX = [[506,565.3,603,866.6,887.6,912,950.6,988],[506,565.5,603,866.6,888.4,912.8,951.5,990],[505.6,565.5,604.4,866.6,890,914.4,953.5,991]];
  const rowY = [376.7,400,423];
  const ruleY = [360,382.7,406,429];
  ruleY.forEach(v => line(g, 420, v, 1011, v, '#333', 1.4, 'haplotype-row-rule'));
  snpPositions.forEach((s,i) => label(g, posX[i], posY[i], s, 11, 'middle', 'snp-position-label'));
  haplotypeNames.forEach((h,r) => {
    label(g, 434, rowY[r] - 1, h, 13, 'start', 'haplotype-name');
    haplotypeAlleles[r].forEach((a,c) => label(g, colX[r][c], rowY[r] + 1, a, 13, 'middle', 'haplotype-allele'));
  });
})();

/* ---------- box plots ---------- */
function drawBox(g, cx, halfBox, halfCap, y, low, q1, med, q3, high, dashed, medWidth){
  const up = line(g, cx, y(q3), cx, y(high), dashed ? '#222' : '#555', 1.2, 'box-upper-whisker');
  const dn = line(g, cx, y(q1), cx, y(low), dashed ? '#222' : '#555', 1.2, 'box-lower-whisker');
  if (dashed) { up.setAttribute('stroke-dasharray', '2 2'); dn.setAttribute('stroke-dasharray', '2 2'); }
  line(g, cx-halfCap, y(high), cx+halfCap, y(high), '#555', 1.2, 'box-upper-cap');
  line(g, cx-halfCap, y(low), cx+halfCap, y(low), '#555', 1.2, 'box-lower-cap');
  const b = make('rect', {x:cx-halfBox, y:y(q3), width:2*halfBox, height:y(q1)-y(q3), fill:'#d3d3d3', stroke:'#333', 'stroke-width':1.2}, g);
  
  
  line(g, cx-halfBox, y(med), cx+halfBox, y(med), '#111', medWidth, 'box-median');
}
(function(){
  const g = group('haplotype-boxplot');
  const y = v => 705 - v * 1.602;
  const centers = [501,594.3,687.6];
  line(g, 454, 480.7, 454, 705, '#444', 1.2, 'hap-y-axis');
  line(g, 454, 705, 734, 705, '#444', 1.2, 'hap-x-axis');
  hapTicks.forEach(v => {
    line(g, 450, y(v), 454, y(v), '#444', 1.2, 'hap-y-tick');
    label(g, 449, y(v) + 7, String(v), 20.7, 'end', 'hap-y-label');
  });
  hapNames.forEach((n,i) => {
    drawBox(g, centers[i], 29.7, 15, y, hapLow[i], hapQ1[i], hapMedian[i], hapQ3[i], hapHigh[i], false, i === 0 ? 1.2 : 1.8);
    line(g, centers[i], 705, centers[i], 710, '#444', 1.2, 'hap-x-tick');
    label(g, centers[i] - 1.5, 728.5, n, 21, 'middle', 'hap-x-label');
    label(g, centers[i], 748, hapCounts[i], 16.6, 'middle', 'hap-count-label');
  });
})();
(function(){
  const g = group('allele-boxplot');
  const y = v => 680 - (v - 20) * 1.357;
  const centers = [887,982];
  const labelX = [886,987];
  const countX = [887,989];
  line(g, 832, 526, 832, 704.5, '#333', 1.2, 'allele-y-axis');
  line(g, 832, 704.5, 1035, 704.5, '#333', 1.2, 'allele-x-axis');
  alleleTicks.forEach(v => {
    line(g, 828, y(v), 832, y(v), '#333', 1.2, 'allele-y-tick');
    label(g, 827, y(v) + 6, String(v), 17.5, 'end', 'allele-y-label');
  });
  alleleNames.forEach((n,i) => {
    drawBox(g, centers[i], i === 0 ? 37.8 : 38.4, 18, y, alleleLow[i], alleleQ1[i], alleleMedian[i], alleleQ3[i], alleleHigh[i], true, 2.2);
    line(g, centers[i], 704.5, centers[i], 709, '#333', 1.2, 'allele-x-tick');
    label(g, labelX[i], 728.5, n, 18.6, 'middle', 'allele-x-label');
    label(g, countX[i], 748, alleleCounts[i], 16.6, 'middle', 'allele-count-label');
  });
  alleleOutliers.forEach(v => {
    const c = make('circle', {cx:887, cy:y(v), r:2.4, fill:'none', stroke:'#333', 'stroke-width':.9}, g);
    
    
  });
})();

/* ---------- Panel F: expression bars ---------- */
(function(){
  const g = group('expression-bar-chart');
  const y = v => 1008.3 - v * 25;
  const x = slot => 74.7 + slot * 18.36;
  const bw = 14.5;
  const stageLabelX = [135.5,264.5,393,522.6,650.5,779.6];
  line(g, 71.5, 808, 71.5, 1009, '#222', 1.2, 'expression-y-axis');
  expressionTicks.forEach(v => {
    line(g, 67, y(v), 71.5, y(v), '#222', 1.2, 'expression-y-tick');
    label(g, 64, y(v) + 7.5, String(v), 21, 'end', 'expression-y-label');
  });
  expressionValues.forEach((vals, gi) => {
    vals.forEach((v, j) => {
      const bx = x(gi * 7 + j);
      const b = make('rect', {x:bx, y:y(v), width:bw, height:y(0)-y(v), fill:varietyColors[j], stroke:'#111', 'stroke-width':1.4}, g);
      
      
      const e = expressionErrors[gi][j];
      const cx = bx + bw / 2;
      const eb = make('path', {d:'M'+cx+','+y(v+e)+'V'+y(v-e)+'M'+(cx-2)+','+y(v+e)+'H'+(cx+2)+'M'+(cx-2)+','+y(v-e)+'H'+(cx+2), stroke:'#333', 'stroke-width':.9, fill:'none'}, g);
      
      
    });
    label(g, stageLabelX[gi], 1038, stageNames[gi], 19, 'middle', 'stage-label');
  });
  expressionSignificant.forEach(pair => {
    const gi = pair[0], j = pair[1];
    const v = expressionValues[gi][j] + expressionErrors[gi][j];
    label(g, x(gi * 7 + j) + bw / 2, y(v) + 2.5, '**', 19, 'middle', 'significance-stars');
  });
  line(g, 71.5, 1008.5, 825, 1008.5, '#999', 1.6, 'expression-x-axis');
  for (let s = 0; s <= 41; s++) {
    line(g, x(s) - 1.9, 1008.5, x(s) - 1.9, 1013, '#222', 1, 'expression-x-tick');
  }
  const legend = group('expression-legend');
  const boxX = [377.4,377.4,377.4,515,515,515];
  const boxY = [804,821.7,839,804,821.7,839];
  const textX = [399.5,398,397.3,536.6,537.6,541];
  const textY = [817.5,835,851.7,816,835,851.7];
  varietyNames.forEach((n,i) => {
    const r = make('rect', {x:boxX[i], y:boxY[i], width:16.7, height:14.3, fill:varietyColors[i], stroke:'#555', 'stroke-width':1.2}, legend);
    
    
    label(legend, textX[i], textY[i], n, 16.7, 'start', 'legend-entry');
  });
})();

/* ---------- Panel H: transgenic bars ---------- */
(function(){
  const g = group('transgenic-bar-chart');
  const y = v => 1310 - v * 1.884;
  const bx = [580.5,669,758];
  const lx = [600,688,776];
  const bw = 36;
  line(g, 553.4, 1159, 553.4, 1311, '#333', 1.1, 'transgenic-y-axis');
  transgenicTicks.forEach(v => {
    line(g, 549, y(v), 553.4, y(v), '#333', 1.1, 'transgenic-y-tick');
    label(g, 546, y(v) + 7, String(v), 20, 'end', 'transgenic-y-label');
  });
  transgenicNames.forEach((n,i) => {
    const v = transgenicValues[i];
    const b = make('rect', {x:bx[i], y:y(v), width:bw, height:y(0)-y(v), fill:'#a6a6a6', stroke:'#222', 'stroke-width':1.2}, g);
    
    
    const e = transgenicErrors[i];
    const cx = bx[i] + bw / 2;
    const eb = make('path', {d:'M'+cx+','+y(v+e)+'V'+y(v-e)+'M'+(cx-2)+','+y(v+e)+'H'+(cx+2)+'M'+(cx-2)+','+y(v-e)+'H'+(cx+2), stroke:'#222', 'stroke-width':1, fill:'none'}, g);
    
    
    label(g, cx, y(v + e) - 8, transgenicLetters[i], 22, 'middle', 'transgenic-group-letter');
    label(g, lx[i], 1335, n, 21, 'middle', 'transgenic-x-label');
  });
  line(g, 553.4, 1310.5, 819, 1310.5, '#888', 1.3, 'transgenic-x-axis');
  [553.4,642,730.5,819].forEach(px => line(g, px, 1310.5, px, 1316, '#333', 1, 'transgenic-x-tick'));
})();
</script>
</body>
</html>
